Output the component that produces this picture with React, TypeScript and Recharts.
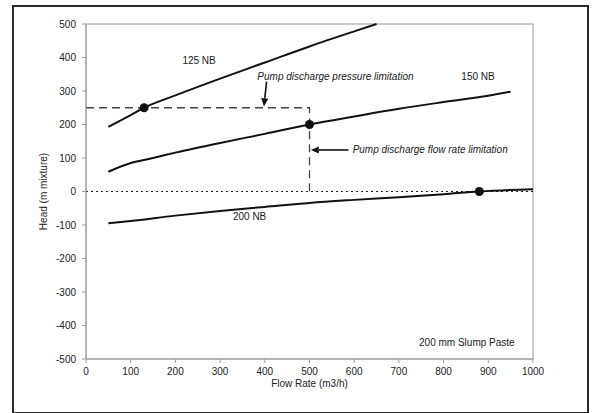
import {
  ComposedChart,
  Line,
  Scatter,
  XAxis,
  YAxis,
  ReferenceLine,
  ReferenceArea,
  ReferenceDot,
} from "recharts";

// flow rate (m3/h) and head (m mixture)
const flow125 = [50, 100, 130, 200, 300, 400, 500, 600, 650];
const head125 = [193, 228, 250, 287, 337, 385, 433, 478, 500];
const flow150 = [50, 100, 150, 200, 300, 400, 500, 600, 700, 800, 900, 950];
const head150 = [59, 85, 100, 116, 145, 172, 200, 224, 247, 267, 286, 298];
const flow200 = [50, 100, 200, 300, 400, 500, 600, 700, 800, 880, 1000];
const head200 = [-95, -88, -72, -58, -46, -34, -25, -17, -8, 0, 7];

const limitFlow = [0, 500, 500];
const limitHead = [250, 250, 0];

const pointFlow = [130, 500, 880];
const pointHead = [250, 200, 0];

const xTicks = [0, 100, 200, 300, 400, 500, 600, 700, 800, 900, 1000];
const yTicks = [-500, -400, -300, -200, -100, 0, 100, 200, 300, 400, 500];

const FONT = "'Liberation Sans', Arial, sans-serif";
const INK = "#111";
const GREY = "#9a9a9a";

const zip = (xs: number[], ys: number[]) => xs.map((x, i) => ({ x, y: ys[i] }));

const curve125 = zip(flow125, head125);
const curve150 = zip(flow150, head150);
const curve200 = zip(flow200, head200);
const limits = zip(limitFlow, limitHead);
const points = zip(pointFlow, pointHead);

const tickStyle = { fill: "#222", fontSize: 10, fontFamily: FONT };

// text placed at a data position
const note = (text: string, italic = false) => (p: any) => (
  <text
    x={p.cx}
    y={p.cy}
    textAnchor="middle"
    dominantBaseline="central"
    fontFamily={FONT}
    fontSize={10}
    fontStyle={italic ? "italic" : "normal"}
    fill="#1a1a1a"
  >
    {text}
  </text>
);

// line with an arrow head at its second end
const arrow = (p: any) => {
  const { x1, y1, x2, y2 } = p;
  const a = Math.atan2(y2 - y1, x2 - x1);
  const len = 8;
  const w = 3.5;
  const bx = x2 - len * Math.cos(a);
  const by = y2 - len * Math.sin(a);
  const nx = -Math.sin(a) * w;
  const ny = Math.cos(a) * w;
  return (
    <g>
      <line x1={x1} y1={y1} x2={bx} y2={by} stroke={INK} strokeWidth={1.6} />
      <polygon points={`${x2},${y2} ${bx + nx},${by + ny} ${bx - nx},${by - ny}`} fill={INK} />
    </g>
  );
};

export default function App() {
  return (
    <div style={{ position: "absolute", left: 0, top: 0, width: 592, height: 413, background: "#fff" }}>
      <div
        style={{
          position: "absolute",
          left: 12,
          top: 5,
          width: 573,
          height: 405,
          border: "2px solid #2a2a2a",
        }}
      />
      <div style={{ position: "absolute", left: 0, top: 0 }}>
        <ComposedChart width={592} height={413} margin={{ top: 24, right: 59, bottom: 24, left: 26 }}>
          <XAxis
            dataKey="x"
            type="number"
            domain={[0, 1000]}
            ticks={xTicks}
            interval={0}
            tick={tickStyle}
            tickSize={4}
            tickMargin={5}
            stroke={GREY}
            height={30}
            allowDuplicatedCategory={false}
            label={{
              content: (p: any) => (
                <text
                  x={p.viewBox.x + p.viewBox.width / 2}
                  y={p.viewBox.y + 28}
                  textAnchor="middle"
                  fontFamily={FONT}
                  fontSize={10}
                  fill="#222"
                >
                  Flow Rate (m3/h)
                </text>
              ),
            }}
          />
          <YAxis
            dataKey="y"
            type="number"
            domain={[-500, 500]}
            ticks={yTicks}
            interval={0}
            tick={tickStyle}
            tickSize={4}
            tickMargin={6}
            stroke={GREY}
            width={60}
            label={{
              content: (p: any) => {
                const cx = p.viewBox.x + 17;
                const cy = p.viewBox.y + p.viewBox.height / 2;
                return (
                  <text
                    x={cx}
                    y={cy}
                    transform={`rotate(-90 ${cx} ${cy})`}
                    textAnchor="middle"
                    dominantBaseline="central"
                    fontFamily={FONT}
                    fontSize={10}
                    fill="#222"
                  >
                    Head (m mixture)
                  </text>
                );
              },
            }}
          />
          <ReferenceArea x1={0} x2={1000} y1={-500} y2={500} fill="none" stroke={GREY} strokeWidth={1} />
          <ReferenceLine y={0} stroke="#222" strokeWidth={1.2} strokeDasharray="2 3" />
          <Line
            data={limits}
            dataKey="y"
            type="linear"
            stroke="#444"
            strokeWidth={1.3}
            strokeDasharray="8 5"
            dot={false}
            isAnimationActive={false}
          />
          <Line data={curve125} dataKey="y" type="monotone" stroke={INK} strokeWidth={2} dot={false} isAnimationActive={false} />
          <Line data={curve150} dataKey="y" type="monotone" stroke={INK} strokeWidth={2} dot={false} isAnimationActive={false} />
          <Line data={curve200} dataKey="y" type="monotone" stroke={INK} strokeWidth={2} dot={false} isAnimationActive={false} />
          <Scatter
            data={points}
            dataKey="y"
            fill={INK}
            isAnimationActive={false}
            shape={(p: any) => <circle cx={p.cx} cy={p.cy} r={4.5} fill={INK} />}
          />
          <ReferenceLine segment={[{ x: 404, y: 328 }, { x: 398, y: 254 }]} shape={arrow} />
          <ReferenceLine segment={[{ x: 587, y: 124 }, { x: 503, y: 124 }]} shape={arrow} />
          <ReferenceDot x={253} y={392} r={0} shape={note("125 NB")} />
          <ReferenceDot x={877} y={342} r={0} shape={note("150 NB")} />
          <ReferenceDot x={366} y={-76} r={0} shape={note("200 NB")} />
          <ReferenceDot x={558} y={342} r={0} shape={note("Pump discharge pressure limitation", true)} />
          <ReferenceDot x={770} y={124} r={0} shape={note("Pump discharge flow rate limitation", true)} />
          <ReferenceDot x={852} y={-452} r={0} shape={note("200 mm Slump Paste")} />
        </ComposedChart>
      </div>
    </div>
  );
}
